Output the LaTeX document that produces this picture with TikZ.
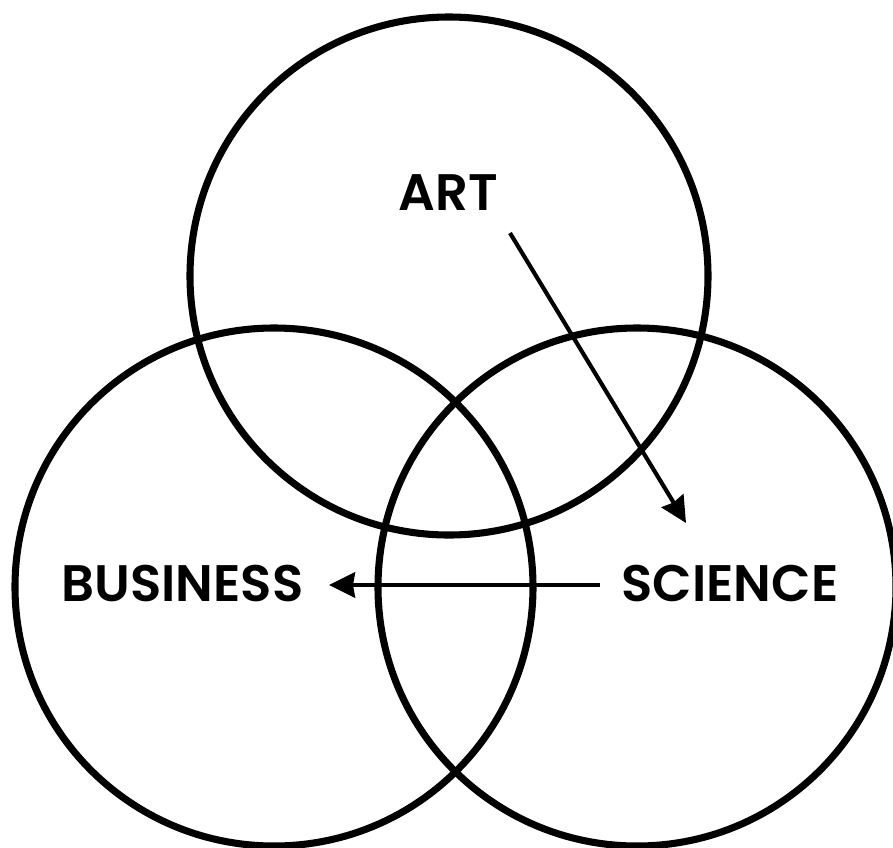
\documentclass[tikz,border=0pt]{standalone}
\usepackage{fontspec}
\setmainfont{Poppins}[BoldFont={Poppins SemiBold}]
\usetikzlibrary{arrows.meta}
\begin{document}
\begin{tikzpicture}[x=0.75pt,y=-0.75pt,
  ring/.style={draw=black,line width=5.3pt},
  lbl/.style={anchor=base,inner sep=0pt,font=\fontsize{38.5pt}{40pt}\selectfont\bfseries},
  flow/.style={draw=black,line width=3.1pt,-{Stealth[length=19.5pt,width=19pt,inset=1.5pt]}}]
\useasboundingbox (0,0) rectangle (893,847);
\draw[ring] (449,276) circle[radius=259];
\draw[ring] (274,587) circle[radius=259];
\draw[ring] (637,587) circle[radius=259];
\node[lbl] (art) at (448,210) {ART};
\node[lbl] (bus) at (182.5,601) {BUSINESS};
\node[lbl] (sci) at (730,601) {SCIENCE};
\coordinate (a1) at (510,233);
\coordinate (a2) at (686,523);
\coordinate (b1) at (600,585);
\coordinate (b2) at (329,585);
\draw[flow] (a1) -- (a2);
\draw[flow] (b1) -- (b2);
\end{tikzpicture}
\end{document}
